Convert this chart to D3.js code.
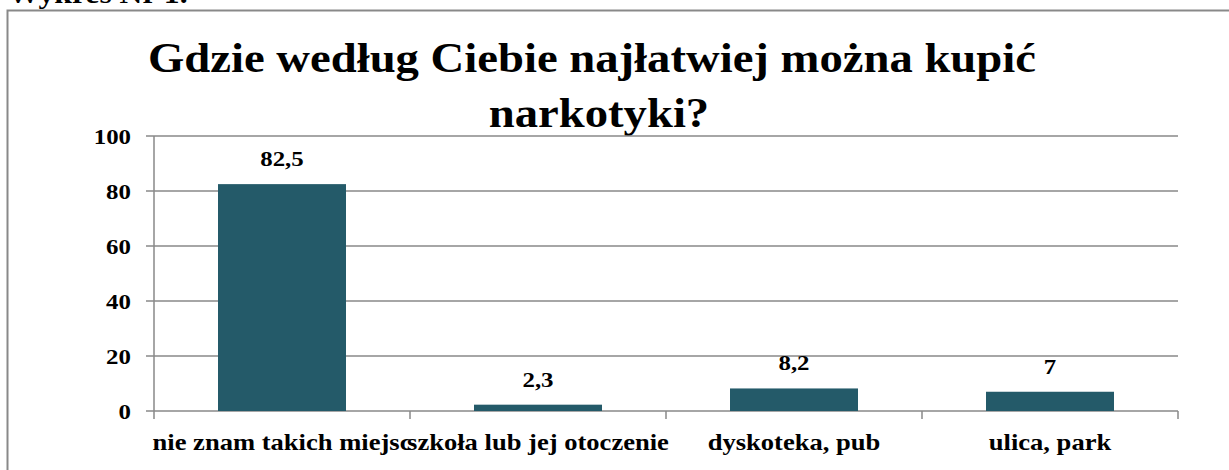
<!DOCTYPE html>
<html>
  <head>
    <meta charset="utf-8">
    <title>Wykres Nr 1</title>
    <script src="https://d3js.org/d3.v7.js"></script>
  </head>
  <body style="margin:0">
    <script>

  // canvas size
  var w = 1229;
  var h = 470;

  // data
  var categories = ["nie znam takich miejsc", "szkoła lub jej otoczenie", "dyskoteka, pub", "ulica, park"];
  var values = [82.5, 2.3, 8.2, 7];
  var valueLabels = ["82,5", "2,3", "8,2", "7"];
  var yTicks = [0, 20, 40, 60, 80, 100];
  var titleLines = ["Gdzie według Ciebie najłatwiej można kupić", "narkotyki?"];
  var caption = "Wykres Nr 1.";

  // text in the original is a little wider than plain Times
  var stretch = 1.13;
  var gridColor = "#898989";
  var barColor = "#245a69";

  var svg = d3.select("body")
    .append("svg")
    .attr("width", w)
    .attr("height", h);

  // scales
  var xScale = d3.scaleBand()
    .domain(categories)
    .range([154, 1178]);

  var yScale = d3.scaleLinear()
    .domain([0, 100])
    .range([411, 136]);

  // bold serif text, widened a bit with textLength
  function serif(sel, size) {
    sel
      .style("font-family", "'Liberation Serif', 'Times New Roman', Tinos, serif")
      .style("font-size", size + "px")
      .style("font-weight", "bold")
      .attr("fill", "#000");
    sel.each(function() {
      var len = this.getComputedTextLength();
      d3.select(this)
        .attr("textLength", len * stretch)
        .attr("lengthAdjust", "spacingAndGlyphs");
    });
  }

  // caption above the box, cut off at the top
  svg.append("text")
    .attr("x", 8)
    .attr("y", 3)
    .text(caption)
    .call(serif, 28);

  // chart border (runs off the right and bottom)
  svg.append("path")
    .attr("d", "M7.5," + (h + 5) + "V10.5H" + (w + 5))
    .attr("fill", "none")
    .attr("stroke", gridColor)
    .attr("stroke-width", 2);

  // title
  svg.selectAll(".title")
    .data(titleLines)
    .enter()
    .append("text")
    .attr("class", "title")
    .attr("text-anchor", "middle")
    .attr("x", (d, i) => 592 + i * 7)
    .attr("y", (d, i) => 72 + i * 55)
    .text(d => d)
    .call(serif, 41.3);

  // horizontal gridlines with their little tick stubs
  svg.selectAll(".grid")
    .data(yTicks)
    .enter()
    .append("line")
    .attr("class", "grid")
    .attr("x1", xScale.range()[0] - 8)
    .attr("x2", xScale.range()[1])
    .attr("y1", d => yScale(d))
    .attr("y2", d => yScale(d))
    .attr("stroke", gridColor)
    .attr("stroke-width", 1.5);

  // y axis line
  svg.append("line")
    .attr("x1", xScale.range()[0])
    .attr("x2", xScale.range()[0])
    .attr("y1", yScale(100))
    .attr("y2", yScale(0))
    .attr("stroke", gridColor)
    .attr("stroke-width", 1.5);

  // x axis category ticks
  var tickXs = categories.map(c => xScale(c)).concat([xScale.range()[1]]);
  svg.selectAll(".xtick")
    .data(tickXs)
    .enter()
    .append("line")
    .attr("class", "xtick")
    .attr("x1", d => d)
    .attr("x2", d => d)
    .attr("y1", yScale(0))
    .attr("y2", yScale(0) + 8)
    .attr("stroke", gridColor)
    .attr("stroke-width", 1.5);

  // y tick labels
  svg.selectAll(".ylab")
    .data(yTicks)
    .enter()
    .append("text")
    .attr("class", "ylab")
    .attr("text-anchor", "end")
    .attr("x", 131)
    .attr("y", d => yScale(d) + 8)
    .text(d => d)
    .call(serif, 22);

  // bars
  var barW = xScale.bandwidth() * 0.5;
  svg.selectAll(".bar")
    .data(values)
    .enter()
    .append("rect")
    .attr("class", "bar")
    .attr("x", (d, i) => xScale(categories[i]) + (xScale.bandwidth() - barW) / 2)
    .attr("y", d => yScale(d))
    .attr("width", barW)
    .attr("height", d => yScale(0) - yScale(d))
    .attr("fill", barColor);

  // value labels
  svg.selectAll(".vlab")
    .data(values)
    .enter()
    .append("text")
    .attr("class", "vlab")
    .attr("text-anchor", "middle")
    .attr("x", (d, i) => xScale(categories[i]) + xScale.bandwidth() / 2)
    .attr("y", d => yScale(d) - 18)
    .text((d, i) => valueLabels[i])
    .call(serif, 22);

  // category labels
  svg.selectAll(".xlab")
    .data(categories)
    .enter()
    .append("text")
    .attr("class", "xlab")
    .attr("text-anchor", "middle")
    .attr("x", d => xScale(d) + xScale.bandwidth() / 2)
    .attr("y", 450)
    .text(d => d)
    .call(serif, 23.5);

    </script>
  </body>
</html>
